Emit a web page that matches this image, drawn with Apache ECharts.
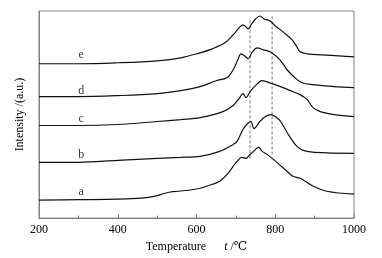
<!DOCTYPE html>
<html><head><meta charset="utf-8">
<script src="https://cdn.jsdelivr.net/npm/echarts@6/dist/echarts.min.js"></script>
<style>html,body{margin:0;padding:0;background:#fff}#c{width:382px;height:258px}</style>
</head><body><div id="c"></div>
<script>
// Temperature (°C) and intensity (a.u., offset stacked) for each curve
const curveA = [[200,18],[300,18.5],[400,19],[460,20],[495,22],[520,25],[540,26.5],[580,28],[609,30],[640,34],[659,37],[680,45],[693,52],[703,57],[715,61],[726,60],[734,63],[745,67],[757,71],[767,67],[779,64],[804,56],[830,47],[845,42],[863,40],[897,32],[931,27],[1000,24]];
const curveB = [[200,56],[300,56],[400,58],[500,60],[560,61],[609,62],[659,67],[693,74],[703,77],[718,89],[730,95],[738,97],[746,90],[761,97],[775,102],[789,104],[800,102],[812,98],[820,93],[838,81],[855,72],[871,68],[900,66],[1000,65]];
const curveC = [[200,93],[300,93],[400,94],[500,97],[560,99],[609,101],[667,107],[693,113],[708,120],[718,125],[726,121],[736,127],[750,133],[766,138],[792,135],[820,131],[838,128],[863,124],[881,119],[896,111],[914,107],[950,104],[1000,102]];
const curveD = [[200,122],[300,122],[400,123],[500,125],[560,128],[609,132],[650,138],[677,141],[693,149],[705,159],[713,165],[722,163],[731,160],[742,167],[754,171],[770,169],[787,167],[812,159],[830,149],[850,141],[868,136],[896,134],[950,132],[1000,131]];
const curveE = [[200,155],[300,155],[400,156],[500,158],[560,161],[609,166],[640,170],[672,176],[693,184],[708,191],[718,194],[726,192],[731,190],[740,195],[750,200],[761,203],[772,200],[787,198],[800,193],[820,187],[843,179],[855,172],[863,167],[881,165],[920,164],[1000,162]];
const curveNames = ['a','b','c','d','e'];
const labelT = [307,307,307,307,307];
const labelI = [26,64,100,128,164];
const dashT = [736,792];
const dashTop = [201,204];
const dashBottom = [60,64];
const xTicks = [200,400,600,800,1000];

const chart = echarts.init(document.getElementById('c'), null, {renderer:'canvas'});
const serif = '"Liberation Serif","DejaVu Serif",serif';
const curves = [curveA,curveB,curveC,curveD,curveE];
const series = curves.map((d,i)=>({
  type:'line', name:curveNames[i], data:d, showSymbol:false, smooth:0.35,
  lineStyle:{color:'#111',width:1.2}, silent:true, z:3
}));
dashT.forEach((t,i)=>{
  series.push({type:'line', data:[[t,dashBottom[i]],[t,dashTop[i]]], showSymbol:false,
    lineStyle:{color:'#555',width:0.8,type:[3,2]}, silent:true, z:2});
});
series.push({type:'scatter', symbolSize:0, silent:true,
  data: curveNames.map((n,i)=>({value:[labelT[i],labelI[i]], name:n})),
  label:{show:true, position:'inside', formatter:p=>p.name, color:'#000', fontFamily:serif, fontSize:12}
});

chart.setOption({
  animation:false,
  grid:{left:39,right:28,top:11,bottom:39,show:true,borderColor:'#808080',borderWidth:1},
  xAxis:{type:'value',min:200,max:1000,interval:200,
    name:'Temperature      {i|t} /℃', nameLocation:'middle', nameGap:19,
    nameTextStyle:{color:'#000',fontFamily:serif,fontSize:12,rich:{i:{fontStyle:'italic',fontFamily:serif,fontSize:12,color:'#000'}}},
    axisLine:{lineStyle:{color:'#808080'}},
    axisTick:{inside:true,length:4,lineStyle:{color:'#808080'}},
    minorTick:{show:true,splitNumber:2,length:2.5,lineStyle:{color:'#808080'}},
    axisLabel:{color:'#000',fontFamily:serif,fontSize:12,margin:6,
      formatter:v=>xTicks.includes(v)?String(v):''},
    splitLine:{show:false}
  },
  yAxis:{type:'value',min:0,max:208,
    name:'Intensity /(a.u.)', nameLocation:'middle', nameGap:13,
    nameTextStyle:{color:'#000',fontFamily:serif,fontSize:12},
    axisLine:{show:true,lineStyle:{color:'#808080'}},
    axisTick:{show:false}, axisLabel:{show:false}, splitLine:{show:false}
  },
  series:series
});
</script></body></html>
